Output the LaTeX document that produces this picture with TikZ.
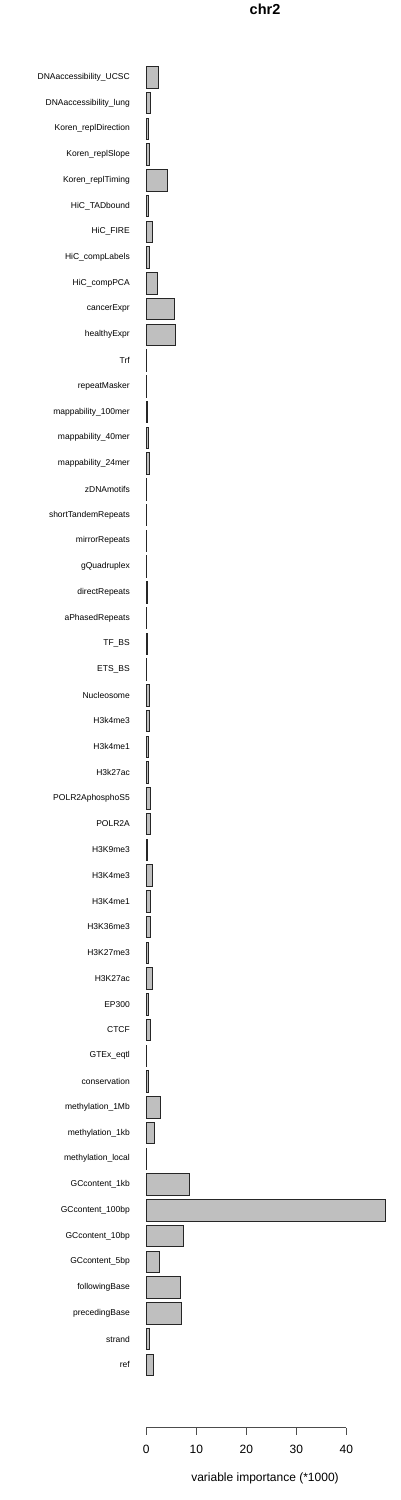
\documentclass[tikz,border=0pt]{standalone}
\usepackage{fontspec}
\setmainfont{Liberation Sans}
\usetikzlibrary{positioning}

\begin{document}
\begin{tikzpicture}[
    x=1pt, y=1pt,
    bar/.style={draw=black!85, fill=black!25, line width=0.8pt},
    axisline/.style={draw=black!70, line width=0.8pt},
    varlabel/.style={anchor=east, inner sep=0pt, font=\fontsize{8.5}{10}\selectfont},
    ticklabel/.style={inner sep=0pt, font=\fontsize{12}{14}\selectfont}
]
\useasboundingbox (0,0) rectangle (400,-1500);

% Title
\node (title) [font=\bfseries\fontsize{14.5}{16}\selectfont] at (265,-9) {chr2};

% Bars
\foreach \lab/\val [count=\i, evaluate=\i as \yc using {77.2+(\i-1)*25.75}] in {
    DNAaccessibility\_UCSC/2.47, DNAaccessibility\_lung/0.87,
    Koren\_replDirection/0.4, Koren\_replSlope/0.53, Koren\_replTiming/4.13,
    HiC\_TADbound/0.33, HiC\_FIRE/1.27, HiC\_compLabels/0.6, HiC\_compPCA/2.13,
    cancerExpr/5.6, healthyExpr/5.73, Trf/0.05, repeatMasker/0.05,
    mappability\_100mer/0.15, mappability\_40mer/0.45, mappability\_24mer/0.6,
    zDNAmotifs/0.05, shortTandemRepeats/0.05, mirrorRepeats/0.1,
    gQuadruplex/0.1, directRepeats/0.15, aPhasedRepeats/0.05,
    TF\_BS/0.3, ETS\_BS/0.05, Nucleosome/0.6, H3k4me3/0.55, H3k4me1/0.4,
    H3k27ac/0.45, POLR2AphosphoS5/0.8, POLR2A/0.75, H3K9me3/0.25,
    H3K4me3/1.27, H3K4me1/0.87, H3K36me3/0.8, H3K27me3/0.47, H3K27ac/1.2,
    EP300/0.35, CTCF/0.87, GTEx\_eqtl/0.05, conservation/0.45,
    methylation\_1Mb/2.87, methylation\_1kb/1.67, methylation\_local/0.05,
    GCcontent\_1kb/8.67, GCcontent\_100bp/47.87, GCcontent\_10bp/7.33,
    GCcontent\_5bp/2.6, followingBase/6.8, precedingBase/7.07,
    strand/0.53, ref/1.33}
{
    \node (lab\i) [varlabel] at (130,-\yc) {\lab};
    \draw[bar] (146.3,-\yc+10.75) rectangle (146.3+5*\val,-\yc-10.75);
}

% Axis
\draw[axisline] (146.3,-1427.7) -- (346.3,-1427.7);
\foreach \t [count=\j] in {0,10,20,30,40} {
    \draw[axisline] (146.3+5*\t,-1427.7) -- (146.3+5*\t,-1435);
    \node (tick\j) [ticklabel] at (146.3+5*\t,-1449) {\t};
}
\node (xlabel) [ticklabel] at (265,-1478) {variable importance (*1000)};

\end{tikzpicture}
\end{document}
